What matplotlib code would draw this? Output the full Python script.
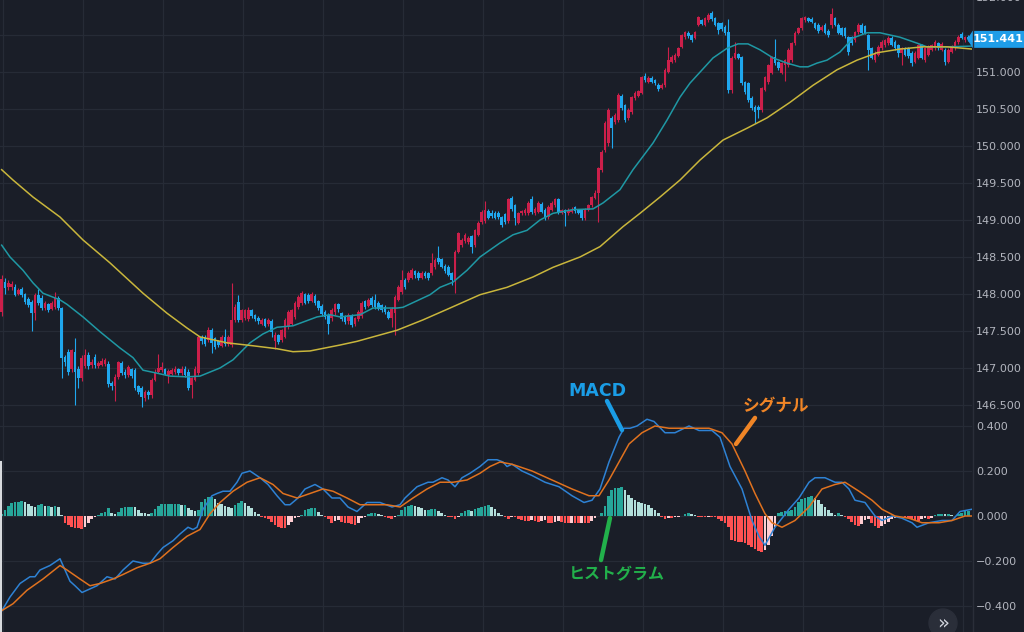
import matplotlib.pyplot as plt
from matplotlib.patches import Polygon, Ellipse
from matplotlib.lines import Line2D
from matplotlib.transforms import blended_transform_factory

# candles: open / high / low / close, one per bar
o = [147.75,148.16,148.09,148.10,148.10,148.00,148.07,148.00,147.93,147.89,
     147.74,147.99,147.95,147.81,147.86,147.80,147.82,147.95,147.81,147.15,
     147.22,146.98,147.22,146.99,146.86,147.02,147.18,147.04,147.15,147.03,
     147.04,147.05,147.06,146.80,146.75,146.88,147.07,146.95,146.91,146.98,
     146.97,146.75,146.73,146.60,146.68,146.64,146.84,146.95,146.97,146.98,
     146.91,146.92,146.95,146.98,146.93,146.98,146.95,146.77,146.84,146.93,
     147.42,147.42,147.38,147.51,147.40,147.36,147.30,147.42,147.33,147.31,
     147.65,147.89,147.65,147.68,147.66,147.78,147.71,147.68,147.60,147.66,
     147.60,147.64,147.36,147.44,147.38,147.42,147.55,147.60,147.69,147.82,
     147.88,148.00,147.99,147.91,147.97,147.90,147.84,147.76,147.72,147.67,
     147.75,147.86,147.74,147.69,147.63,147.71,147.60,147.66,147.70,147.90,
     147.84,147.94,147.92,147.88,147.85,147.83,147.76,147.68,147.74,147.92,
     148.03,148.19,148.19,148.22,148.31,148.29,148.22,148.29,148.28,148.28,
     148.37,148.49,148.47,148.38,148.37,148.28,148.19,148.57,148.66,148.71,
     148.70,148.78,148.66,148.80,148.97,148.98,149.12,149.10,149.10,149.10,
     149.04,149.08,148.98,149.30,149.20,148.96,149.09,149.09,149.09,149.28,
     149.09,149.11,149.22,149.14,149.04,149.14,149.20,149.28,149.10,149.13,
     149.10,149.11,149.17,149.13,149.13,149.03,149.14,149.20,149.30,149.36,
     149.68,149.95,150.04,150.38,150.33,150.35,150.68,150.55,150.38,150.46,
     150.65,150.68,150.72,150.95,150.87,150.92,150.89,150.83,150.79,150.82,
     151.00,151.14,151.16,151.22,151.34,151.47,151.53,151.50,151.46,151.64,
     151.70,151.64,151.70,151.80,151.73,151.66,151.66,151.61,151.54,150.76,
     151.19,151.24,151.20,150.86,150.85,150.65,150.53,150.53,150.49,150.76,
     150.86,150.99,151.20,151.13,150.99,151.10,151.09,151.16,151.39,151.53,
     151.59,151.70,151.73,151.72,151.66,151.64,151.57,151.64,151.55,151.64,
     151.73,151.64,151.59,151.59,151.47,151.47,151.43,151.54,151.64,151.62,
     151.50,151.32,151.16,151.23,151.32,151.36,151.39,151.46,151.41,151.36,
     151.26,151.32,151.32,151.26,151.14,151.19,151.36,151.16,151.23,151.30,
     151.32,151.39,151.30,151.30,151.14,151.27,151.32,151.40,151.52,151.43,
     151.47]
h = [148.25,148.22,148.19,148.17,148.13,148.08,148.10,148.02,147.96,147.92,
     148.01,148.07,147.98,147.90,147.88,147.90,148.03,147.97,147.83,147.18,
     147.25,147.26,147.40,147.02,147.17,147.26,147.22,147.12,147.19,147.10,
     147.13,147.14,147.10,146.82,146.92,147.10,147.10,146.98,147.04,147.00,
     147.00,146.77,146.76,146.70,146.70,146.86,146.98,147.19,147.08,147.00,
     146.98,147.00,147.02,147.00,147.02,147.02,146.98,146.88,147.02,147.45,
     147.45,147.44,147.55,147.54,147.42,147.38,147.45,147.53,147.45,148.15,
     147.86,147.99,147.80,147.80,147.82,147.80,147.73,147.70,147.68,147.68,
     147.68,147.66,147.48,147.46,147.53,147.68,147.78,147.80,147.90,147.98,
     148.04,148.02,148.01,148.03,148.00,147.92,147.86,147.78,147.74,147.81,
     147.88,147.88,147.76,147.71,147.74,147.73,147.69,147.78,147.90,147.92,
     147.95,147.97,148.00,147.90,147.87,147.85,147.78,147.82,147.98,148.12,
     148.32,148.21,148.31,148.35,148.33,148.31,148.31,148.31,148.30,148.55,
     148.49,148.65,148.49,148.40,148.39,148.30,148.59,148.84,148.76,148.82,
     148.79,148.80,148.88,148.98,149.13,149.25,149.15,149.13,149.12,149.12,
     149.06,149.10,149.30,149.32,149.22,149.11,149.14,149.16,149.25,149.33,
     149.17,149.25,149.24,149.16,149.20,149.26,149.30,149.30,149.15,149.15,
     149.16,149.17,149.19,149.15,149.15,149.16,149.22,149.33,149.40,149.72,
     149.95,150.34,150.52,150.40,150.45,150.72,150.70,150.57,150.51,150.68,
     150.74,150.76,150.95,150.98,150.94,150.94,150.91,150.85,150.85,151.05,
     151.34,151.23,151.25,151.34,151.52,151.56,151.55,151.52,151.56,151.76,
     151.72,151.75,151.80,151.82,151.75,151.68,151.68,151.63,151.72,151.21,
     151.40,151.26,151.22,150.88,150.87,150.67,150.55,150.55,150.80,150.95,
     151.11,151.22,151.45,151.15,151.14,151.18,151.32,151.41,151.55,151.61,
     151.75,151.76,151.75,151.74,151.68,151.66,151.63,151.66,151.58,151.87,
     151.75,151.66,151.61,151.61,151.49,151.49,151.56,151.66,151.66,151.64,
     151.52,151.34,151.28,151.36,151.43,151.45,151.48,151.48,151.43,151.38,
     151.34,151.34,151.34,151.28,151.28,151.38,151.38,151.34,151.36,151.38,
     151.43,151.41,151.40,151.32,151.32,151.36,151.43,151.50,151.54,151.49,
     151.50]
l = [147.70,148.00,148.05,148.06,147.97,147.98,147.96,147.86,147.82,147.50,
     147.65,147.85,147.78,147.79,147.76,147.78,147.80,147.79,146.86,147.03,
     146.90,146.95,146.50,146.73,146.82,147.00,146.98,147.00,147.00,147.00,
     147.02,147.03,146.74,146.70,146.55,146.85,146.90,146.87,146.88,146.86,
     146.70,146.65,146.47,146.55,146.58,146.60,146.82,146.93,146.95,146.90,
     146.80,146.90,146.92,146.90,146.90,146.88,146.70,146.60,146.82,146.90,
     147.33,147.30,147.35,147.20,147.25,147.28,147.28,147.30,147.30,147.28,
     147.62,147.62,147.62,147.65,147.63,147.68,147.63,147.60,147.58,147.55,
     147.57,147.42,147.25,147.32,147.35,147.40,147.52,147.58,147.66,147.80,
     147.85,147.86,147.88,147.89,147.85,147.79,147.70,147.66,147.46,147.64,
     147.72,147.76,147.64,147.60,147.60,147.55,147.57,147.64,147.67,147.80,
     147.82,147.83,147.80,147.78,147.76,147.73,147.66,147.55,147.45,147.90,
     148.00,148.07,148.16,148.20,148.22,148.19,148.20,148.21,148.19,148.25,
     148.34,148.41,148.35,148.29,148.24,148.12,148.02,148.55,148.63,148.69,
     148.68,148.55,148.63,148.78,148.95,148.96,149.01,149.03,149.01,149.02,
     148.90,148.95,148.96,149.12,148.93,148.94,149.07,149.07,149.07,149.08,
     149.07,149.09,149.09,149.00,149.02,149.12,149.18,149.08,149.08,148.92,
     149.07,149.09,149.10,149.08,149.00,149.00,149.12,149.18,149.28,148.97,
     149.65,149.92,150.00,149.97,150.30,150.32,150.48,150.32,150.35,150.43,
     150.62,150.66,150.70,150.87,150.85,150.85,150.83,150.74,150.77,150.80,
     150.98,151.12,151.14,151.20,151.32,151.45,151.46,151.40,151.44,151.62,
     151.63,151.62,151.68,151.69,151.62,151.52,151.55,151.50,150.72,150.72,
     151.17,151.17,150.82,150.70,150.59,150.48,150.31,150.38,150.46,150.74,
     150.84,150.97,151.10,151.03,150.97,150.88,151.07,151.14,151.37,151.51,
     151.57,151.68,151.67,151.66,151.58,151.53,151.55,151.51,151.47,151.60,
     151.62,151.51,151.48,151.46,151.23,151.37,151.41,151.52,151.51,151.51,
     151.03,151.17,151.14,151.21,151.30,151.34,151.37,151.35,151.30,151.20,
     151.10,151.21,151.19,151.08,151.12,151.17,151.17,151.14,151.21,151.28,
     151.30,151.30,151.28,151.10,151.12,151.25,151.30,151.38,151.44,151.41,
     151.42]
c = [148.20,148.08,148.15,148.14,147.99,148.06,147.98,147.89,147.85,147.74,
     147.98,147.88,147.81,147.88,147.78,147.88,147.96,147.81,147.14,147.08,
     146.95,147.24,146.94,146.86,147.14,147.18,147.02,147.08,147.04,147.07,
     147.10,147.11,146.78,146.75,146.88,147.08,146.93,146.90,147.01,146.89,
     146.73,146.68,146.61,146.68,146.63,146.84,146.95,147.00,147.01,146.92,
     146.96,146.97,146.98,146.93,146.98,146.91,146.73,146.86,146.99,147.42,
     147.36,147.33,147.51,147.34,147.28,147.31,147.42,147.33,147.42,147.65,
     147.82,147.65,147.78,147.78,147.78,147.70,147.66,147.63,147.65,147.57,
     147.65,147.48,147.45,147.35,147.51,147.65,147.75,147.78,147.88,147.96,
     148.01,147.88,147.90,148.00,147.88,147.81,147.73,147.69,147.60,147.79,
     147.86,147.80,147.66,147.62,147.72,147.58,147.67,147.76,147.88,147.82,
     147.92,147.85,147.83,147.80,147.78,147.75,147.68,147.80,147.96,148.10,
     148.19,148.10,148.29,148.32,148.25,148.22,148.29,148.24,148.22,148.42,
     148.46,148.43,148.37,148.31,148.26,148.19,148.57,148.82,148.73,148.80,
     148.76,148.64,148.86,148.96,149.11,149.14,149.03,149.06,149.03,149.04,
     148.93,148.97,149.28,149.15,149.03,149.09,149.12,149.14,149.23,149.11,
     149.15,149.23,149.11,149.03,149.18,149.23,149.28,149.11,149.13,149.10,
     149.14,149.14,149.12,149.10,149.03,149.14,149.20,149.31,149.36,149.70,
     149.92,150.31,150.49,150.24,150.42,150.69,150.51,150.35,150.49,150.66,
     150.72,150.74,150.93,150.89,150.92,150.87,150.85,150.77,150.83,151.03,
     151.16,151.20,151.23,151.32,151.50,151.54,151.49,151.43,151.54,151.74,
     151.65,151.73,151.77,151.71,151.64,151.57,151.58,151.53,150.76,151.19,
     151.26,151.19,150.85,150.73,150.62,150.51,150.46,150.48,150.78,150.93,
     151.09,151.20,151.12,151.05,151.12,151.16,151.30,151.39,151.53,151.59,
     151.73,151.74,151.69,151.68,151.60,151.55,151.61,151.53,151.50,151.79,
     151.64,151.53,151.50,151.48,151.27,151.39,151.54,151.64,151.53,151.53,
     151.30,151.19,151.26,151.34,151.41,151.43,151.46,151.37,151.32,151.26,
     151.32,151.23,151.21,151.12,151.26,151.36,151.19,151.32,151.34,151.36,
     151.41,151.32,151.38,151.14,151.30,151.34,151.41,151.47,151.46,151.47,
     151.441]

# moving averages (bar index, price)
ma_short_x = [0,2.5,6.4,9.4,12.4,17.5,19.6,24.4,29.5,32.5,35.5,39.4,42.4,46.6,50.5,55.6,
              59.5,65.5,69.4,74.5,78.4,82.6,87.4,90.4,94.6,98.5,101.5,107.5,111.4,118.6,
              120.4,128.5,131.5,135.4,139.6,143.5,149.5,153.4,157.6,161.5,165.4,171.4,
              177.4,180.4,185.5,189.4,195.4,199.6,203.5,206.5,213.4,217.6,220.9,223.9,
              227.5,231.4,235.6,239.5,241.9,244.6,247.6,251.5,255.4,259.6,263.5,269.5,
              274.6,277.6,283.6,291.1]
ma_short = [148.66,148.50,148.32,148.15,148.01,147.92,147.86,147.69,147.49,147.38,147.27,
            147.14,146.97,146.93,146.89,146.88,146.89,147.00,147.11,147.34,147.46,147.55,
            147.57,147.62,147.69,147.72,147.69,147.72,147.81,147.81,147.82,147.99,148.09,
            148.16,148.32,148.50,148.69,148.80,148.86,149.00,149.09,149.14,149.15,149.23,
            149.41,149.68,150.04,150.35,150.66,150.85,151.19,151.32,151.38,151.38,151.30,
            151.19,151.12,151.07,151.07,151.12,151.16,151.27,151.46,151.53,151.53,151.47,
            151.39,151.34,151.34,151.35]
ma_long_x = [0,3.4,9.4,17.5,24.4,32.5,42.4,49.6,55.6,59.5,67.6,75.4,82.6,87.4,92.5,
             101.5,106.6,118.6,126.4,134.5,143.5,151.6,159.4,165.4,173.5,179.5,186.4,
             191.5,197.5,203.5,209.5,216.4,223.6,229.6,236.5,243.4,250.6,256.6,262.6,
             269.5,276.4,283.6,291.1]
ma_long = [149.68,149.54,149.31,149.04,148.73,148.42,148.01,147.74,147.54,147.42,147.34,
           147.30,147.26,147.22,147.23,147.31,147.36,147.51,147.65,147.81,147.99,148.09,
           148.23,148.36,148.50,148.64,148.91,149.09,149.31,149.54,149.81,150.08,150.24,
           150.38,150.59,150.82,151.03,151.16,151.26,151.31,151.34,151.34,151.31]

# MACD pane
macd_x = [0.1,2.5,5.5,8.5,10.0,11.5,14.5,17.5,20.5,22.0,24.1,25.6,28.6,31.6,34.0,36.4,
          39.4,42.4,44.5,46.6,48.4,51.4,53.5,55.9,57.4,58.6,60.4,63.1,64.6,66.4,68.5,
          70.6,72.1,74.5,77.5,79.9,82.6,85.0,86.5,88.9,91.0,94.0,96.4,99.1,101.5,103.9,
          106.6,109.6,113.5,117.1,119.5,121.0,124.6,127.9,129.4,132.1,133.9,136.0,138.1,
          140.5,143.5,145.9,148.6,150.4,151.6,153.1,156.1,159.1,163.0,167.2,171.1,174.7,
          177.1,179.5,182.2,185.2,186.7,188.5,190.6,193.6,195.7,199.0,202.0,206.2,209.2,
          213.1,215.5,218.5,222.1,225.1,227.2,229.0,232.0,236.2,239.2,242.2,244.0,247.0,
          250.0,252.1,254.2,256.0,259.0,262.0,264.1,267.1,270.1,273.1,274.6,278.2,282.1,
          285.1,287.5,291.1]
macd = [-0.42,-0.36,-0.30,-0.27,-0.27,-0.24,-0.22,-0.19,-0.29,-0.31,-0.34,-0.33,-0.31,
        -0.27,-0.28,-0.24,-0.20,-0.21,-0.21,-0.17,-0.14,-0.11,-0.08,-0.05,-0.06,-0.05,
        0.03,0.09,0.10,0.11,0.11,0.15,0.19,0.20,0.17,0.14,0.09,0.05,0.05,0.08,0.12,0.14,
        0.12,0.08,0.08,0.04,0.02,0.06,0.06,0.04,0.05,0.08,0.13,0.15,0.15,0.17,0.16,0.13,
        0.17,0.19,0.22,0.25,0.25,0.24,0.22,0.23,0.20,0.18,0.15,0.13,0.09,0.06,0.07,0.12,
        0.24,0.35,0.39,0.39,0.40,0.43,0.42,0.37,0.37,0.40,0.38,0.38,0.35,0.22,0.12,-0.02,
        -0.09,-0.13,-0.05,0.03,0.08,0.15,0.17,0.17,0.15,0.15,0.12,0.07,0.06,0.00,-0.02,
        -0.00,-0.01,-0.03,-0.05,-0.03,-0.02,-0.02,0.02,0.03]
sig_x = [0.1,3.4,7.6,12.4,17.5,19.6,23.5,26.5,29.5,33.4,36.4,40.6,44.5,47.5,51.4,55.6,
         59.5,62.5,65.5,69.4,73.6,77.5,81.4,84.4,88.6,92.5,96.4,99.4,103.6,107.5,111.4,
         115.6,119.5,123.4,127.6,131.5,135.4,139.6,143.5,146.5,149.5,153.1,159.1,165.1,
         171.1,176.2,179.2,182.2,185.2,188.2,192.1,196.0,200.2,206.2,212.2,216.1,219.1,
         223.0,226.0,229.0,231.1,234.1,238.0,242.2,246.1,250.0,253.0,257.2,261.1,264.1,
         268.0,272.2,276.1,281.2,285.1,289.0,291.1]
sig = [-0.42,-0.39,-0.33,-0.28,-0.22,-0.24,-0.28,-0.31,-0.30,-0.28,-0.26,-0.23,-0.21,
       -0.19,-0.14,-0.09,-0.06,0.01,0.06,0.11,0.15,0.17,0.14,0.10,0.08,0.10,0.12,0.11,
       0.08,0.05,0.05,0.05,0.04,0.08,0.12,0.15,0.15,0.16,0.19,0.22,0.24,0.23,0.20,0.16,
       0.12,0.09,0.09,0.16,0.24,0.32,0.37,0.40,0.39,0.39,0.39,0.37,0.32,0.20,0.10,0.01,
       -0.03,-0.05,-0.02,0.04,0.12,0.14,0.15,0.11,0.07,0.03,0.00,-0.01,-0.03,-0.03,-0.02,
       -0.00,0.00]
hist = [0.010,0.027,0.044,0.056,0.061,0.064,0.067,0.061,0.053,0.044,
        0.041,0.049,0.052,0.044,0.044,0.041,0.044,0.041,0.004,-0.033,
        -0.040,-0.047,-0.052,-0.055,-0.059,-0.047,-0.033,-0.015,-0.006,0.004,
        0.015,0.019,0.034,0.012,0.009,0.019,0.034,0.039,0.039,0.041,
        0.039,0.027,0.015,0.012,0.009,0.012,0.030,0.044,0.052,0.052,
        0.052,0.052,0.052,0.052,0.049,0.049,0.034,0.027,0.024,0.027,
        0.064,0.074,0.083,0.086,0.074,0.059,0.053,0.044,0.041,0.034,
        0.049,0.056,0.067,0.056,0.044,0.034,0.019,0.009,-0.003,-0.010,
        -0.015,-0.025,-0.040,-0.047,-0.055,-0.055,-0.040,-0.025,-0.010,-0.003,
        0.004,0.027,0.030,0.034,0.034,0.019,0.004,-0.003,-0.015,-0.030,
        -0.021,-0.018,-0.025,-0.030,-0.033,-0.036,-0.040,-0.030,-0.010,-0.003,
        0.009,0.012,0.012,0.007,0.004,-0.003,-0.010,-0.015,-0.003,0.004,
        0.027,0.039,0.044,0.049,0.044,0.039,0.034,0.027,0.027,0.030,
        0.030,0.024,0.015,0.004,-0.003,-0.006,-0.015,-0.006,0.012,0.024,
        0.027,0.024,0.030,0.034,0.041,0.044,0.049,0.041,0.030,0.015,
        0.004,-0.003,-0.015,-0.003,
        -0.003,-0.015,-0.018,-0.021,-0.021,-0.018,-0.021,-0.025,-0.021,-0.018,
        -0.030,-0.033,-0.025,-0.021,-0.025,-0.030,-0.033,-0.030,-0.030,-0.033,
        -0.030,-0.030,-0.033,-0.021,-0.010,0.000,0.012,0.045,0.090,0.116,
        0.123,0.123,0.127,0.116,0.093,0.079,0.071,0.064,0.056,0.053,
        0.049,0.034,0.027,0.012,-0.006,-0.015,-0.010,-0.010,-0.006,-0.003,
        0.000,0.007,0.015,0.009,0.004,-0.003,-0.003,-0.006,-0.003,-0.003,
        -0.006,-0.015,-0.021,-0.033,-0.047,-0.107,-0.112,-0.114,-0.114,-0.120,
        -0.130,-0.136,-0.145,-0.155,-0.160,-0.150,-0.130,-0.090,-0.050,0.012,
        0.019,0.022,0.024,0.027,0.040,0.060,0.075,0.080,0.085,0.088,
        0.080,0.070,0.052,0.040,0.025,0.012,0.006,0.012,0.004,-0.006,
        -0.012,-0.025,-0.040,-0.045,-0.035,-0.020,-0.012,-0.030,-0.045,-0.055,
        -0.045,-0.035,-0.025,-0.015,-0.008,-0.004,-0.002,-0.004,-0.008,-0.012,
        -0.018,-0.022,-0.012,-0.010,-0.015,-0.008,0.004,0.008,0.010,0.008,
        0.008,0.004,0.002,0.008,0.015,0.022,0.024]

price_ticks = [146.5, 147.0, 147.5, 148.0, 148.5, 149.0, 149.5, 150.0, 150.5, 151.0, 151.5]
macd_ticks = [-0.4, -0.2, 0.0, 0.2, 0.4]
last_price = 151.441

bg = '#1a1e28'
grid_c = '#262b36'
txt_c = '#b2b5be'
up_c = '#cc1f4a'
dn_c = '#1fa7ee'
jp = ['Noto Sans CJK JP', 'DejaVu Sans']

fig = plt.figure(figsize=(10.24, 6.32), dpi=100, facecolor=bg)
ax = fig.add_axes([0, 218/632, 972/1024, 414/632])
ax2 = fig.add_axes([0, 0, 972/1024, 218/632])

for a in (ax, ax2):
    a.set_facecolor(bg)
    for s in a.spines.values():
        s.set_visible(False)
    a.set_xlim(-0.5, 291.1)
    a.set_xticks([0.4 + 24*k for k in range(13)])
    a.yaxis.tick_right()
    a.tick_params(axis='x', length=0, labelbottom=False)
    a.tick_params(axis='y', length=0, labelsize=8, labelcolor=txt_c, pad=3)
    a.grid(True, color=grid_c, lw=0.9)
    a.set_axisbelow(True)

# price pane
idx = list(range(len(c)))
cols = [up_c if c[i] >= o[i] else dn_c for i in idx]
ax.vlines(idx, l, h, colors=cols, lw=0.8)
bottoms = [min(o[i], c[i]) for i in idx]
heights = [max(abs(c[i] - o[i]), 0.014) for i in idx]
ax.bar(idx, heights, bottom=bottoms, width=0.8, color=cols, lw=0)
ax.plot(ma_short_x, ma_short, color='#1f98a4', lw=1.1)
ax.plot(ma_long_x, ma_long, color='#c9b63c', lw=1.1)
ax.set_ylim(146.378, 151.973)
ax.set_yticks(price_ticks)
ax.set_yticklabels(['%.3f' % t for t in price_ticks])

tr = blended_transform_factory(ax.transAxes, ax.transData)
ax.text(976/972, 152.0, '152.000', transform=tr, color=txt_c, fontsize=8,
        ha='left', va='center', clip_on=False)
tag = Polygon([(968/972, last_price), (973/972, last_price + 0.105), (1024/972, last_price + 0.105),
               (1024/972, last_price - 0.105), (973/972, last_price - 0.105)],
              closed=True, transform=tr, clip_on=False, color='#1e9de8', zorder=5)
ax.add_patch(tag)
ax.text(998/972, last_price, '%.3f' % last_price, transform=tr, color='white', fontsize=8,
        fontweight='bold', ha='center', va='center', clip_on=False, zorder=6)

# MACD pane
hcols = []
for i, v in enumerate(hist):
    prev = hist[i-1] if i > 0 else 0
    if v >= 0:
        hcols.append('#26a69a' if v >= prev else '#b2dfdb')
    else:
        hcols.append('#ff5252' if v <= prev else '#ffcdd2')
ax2.bar(range(len(hist)), hist, width=0.75, color=hcols, lw=0)
ax2.plot(macd_x, macd, color='#2e82d4', lw=1.1)
ax2.plot(sig_x, sig, color='#e0721f', lw=1.1)
ax2.set_ylim(-0.5156, 0.4533)
ax2.set_yticks(macd_ticks)
ax2.set_yticklabels([('%.3f' % t).replace('-', '\u2212') for t in macd_ticks])

# callouts
ax2.plot([181.6, 186.1], [0.511, 0.382], color='#1a9de6', lw=3.2,
         solid_capstyle='round', clip_on=False, zorder=6)
ax2.text(178.6, 0.556, 'MACD', color='#1a9de6', fontsize=12.5, fontweight='bold',
         ha='center', va='center', clip_on=False, zorder=6)
ax2.plot([226.0, 220.3], [0.436, 0.32], color='#f08526', lw=3.2,
         solid_capstyle='round', clip_on=False, zorder=6)
ax2.text(232.3, 0.489, 'シグナル', color='#f08526', fontsize=12, fontweight='bold',
         family=jp, ha='center', va='center', clip_on=False, zorder=6)
ax2.plot([182.5, 179.8], [-0.009, -0.196], color='#22b04b', lw=3.2,
         solid_capstyle='round', clip_on=False, zorder=6)
ax2.text(184.6, -0.258, 'ヒストグラム', color='#22b04b', fontsize=11.5, fontweight='bold',
         family=jp, ha='center', va='center', clip_on=False, zorder=6)

# frame bits
fig.add_artist(Line2D([972.5/1024, 972.5/1024], [0, 1], color='#2a2e39', lw=1))
fig.add_artist(Line2D([0.8/1024, 0.8/1024], [0, 170/632], color='#d8dade', lw=1.5))
fig.add_artist(Ellipse((943/1024, 1 - 623/632), 28/1024, 28/632, color='#2a2e39'))
fig.text(943/1024, 1 - 623/632, '»', color='#d1d4dc', fontsize=14, ha='center', va='center')

plt.savefig('out.png', dpi=100, facecolor=bg)
